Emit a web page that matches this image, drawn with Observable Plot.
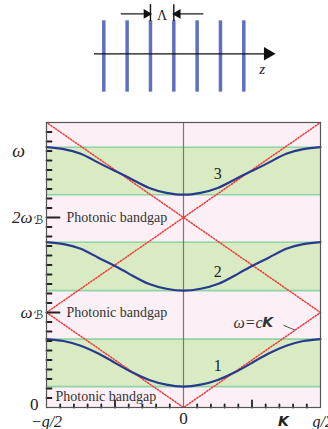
<!DOCTYPE html>
<html>
<head>
<meta charset="utf-8">
<script src="https://cdn.jsdelivr.net/npm/d3@7"></script>
<script src="https://cdn.jsdelivr.net/npm/@observablehq/plot@0.6"></script>
<style>
  html, body { margin: 0; padding: 0; background: #fff; }
  #chart svg { display: block; }
</style>
</head>
<body>
<div id="chart"></div>
<script>
// ---- Periodic stack (units of the period Λ) ----
const layerIndex = [0, 1, 2, 3, 4, 5, 6];

// ---- Band diagram: reduced wavevector K in units of g/2, ω in units of ω_B ----
const halfK = [0, 0.125, 0.25, 0.375, 0.5, 0.625, 0.75, 0.875, 1];
const band1 = [0.22, 0.24, 0.29, 0.37, 0.47, 0.57, 0.65, 0.70, 0.72];
const band2 = [1.23, 1.25, 1.30, 1.39, 1.49, 1.58, 1.67, 1.72, 1.74];
const band3 = [2.24, 2.26, 2.31, 2.40, 2.49, 2.58, 2.67, 2.72, 2.74];
const allowedLow = [0.22, 1.23, 2.24];
const allowedHigh = [0.72, 1.74, 2.74];
const bandNames = ["1", "2", "3"];
const bandLabelK = [0.25, 0.25, 0.25];
const bandLabelW = [0.44, 1.43, 2.46];
const gapCenters = [1, 2];
const lowGapCenter = 0.12;
// light line ω = c|K| folded into the zone
const lightK = [[-1, 0, 1], [-1, 1], [1, -1]];
const lightW = [[1, 0, 1], [1, 3], [1, 3]];
const minorYTicks = d3.range(1, 30).map(i => i / 10).filter(v => v !== 1 && v !== 2);
const majorYTicks = [1, 2];
const minorXTicks = d3.range(-9, 10).map(i => i / 10).filter(v => v !== 0 && Math.abs(v) !== 0.5);
const majorXTicks = [-0.5, 0.5];

const bandTable = [];
[band1, band2, band3].forEach((b, j) => {
  const pts = halfK.map((k, i) => ({k, w: b[i]}));
  const mirrored = pts.slice(1).reverse().map(p => ({k: -p.k, w: p.w}));
  for (const p of mirrored.concat(pts)) bandTable.push({band: bandNames[j], K: p.k, w: p.w});
});
const lightTable = [];
lightK.forEach((ks, j) => ks.forEach((k, i) => lightTable.push({seg: j, K: k, w: lightW[j][i]})));
const bandRects = allowedLow.map((lo, i) => ({lo, hi: allowedHigh[i]}));
const bandLabels = bandNames.map((n, i) => ({n, K: bandLabelK[i], w: bandLabelW[i]}));

const serif = "'Liberation Serif', 'DejaVu Serif', serif";
const scriptFont = "'DejaVu Serif', 'DejaVu Sans', serif";
const sans = "'DejaVu Sans', sans-serif";

// a plain stroke of length l, pointing along the vector direction
const stick = {draw(context, l) { context.moveTo(0, 0); context.lineTo(0, -l); }};

// ---- Top schematic ----
const stack = Plot.plot({
  width: 328, height: 110, margin: 0,
  x: {domain: [0, 6], range: [103.3, 243.3], axis: null},
  y: {domain: [-1.715, 1.615], range: [110, 0], axis: null},
  marks: [
    Plot.ruleX(layerIndex, {x: d => d, y1: -1.16, y2: 1, stroke: "#5f6fc2", strokeWidth: 3.5}),
    Plot.ruleY([0], {x1: -0.4, x2: 6.9, stroke: "#111", strokeWidth: 1.4}),
    Plot.dot([{x: 7.03, y: 0}], {x: "x", y: "y", symbol: "triangle", r: 5, rotate: 90, fill: "#111", stroke: null}),
    Plot.text(["z"], {x: 6.79, y: -0.45, text: d => d, fontFamily: serif, fontStyle: "italic", fontSize: 15, fill: "#222"}),
    // period marker
    Plot.ruleX([2, 3], {x: d => d, y1: 0.98, y2: 1.49, stroke: "#111", strokeWidth: 1.4}),
    Plot.ruleY([1.21], {x1: 0.75, x2: 1.8, stroke: "#111", strokeWidth: 1.2}),
    Plot.ruleY([1.21], {x1: 3.25, x2: 4.29, stroke: "#111", strokeWidth: 1.2}),
    Plot.dot([{x: 1.83, y: 1.21, a: 90}, {x: 3.17, y: 1.21, a: -90}], {x: "x", y: "y", symbol: "triangle", r: 3.6, rotate: "a", fill: "#111", stroke: null}),
    Plot.text(["Λ"], {x: 2.5, y: 1.17, text: d => d, fontFamily: serif, fontSize: 14, fill: "#222"})
  ]
});

// ---- Band diagram ----
const chart = Plot.plot({
  width: 328, height: 319,
  marginTop: 12, marginBottom: 22, marginLeft: 46, marginRight: 8,
  x: {domain: [-1, 1], axis: null},
  y: {domain: [0, 3], axis: null},
  style: {overflow: "visible"},
  marks: [
    Plot.rect([0], {x1: -1, x2: 1, y1: 0, y2: 3, fill: "#fcf0f6"}),
    Plot.rect(bandRects, {x1: -1, x2: 1, y1: "lo", y2: "hi", fill: "#d9ebc2"}),
    Plot.ruleY(allowedLow.concat(allowedHigh), {stroke: "#8fd4a4", strokeWidth: 1.6}),
    Plot.ruleX([0], {stroke: "#777", strokeWidth: 1.2}),
    Plot.line(lightTable, {x: "K", y: "w", z: "seg", stroke: "#f03a3a", strokeWidth: 1.5, strokeDasharray: "1.3,1.7"}),
    Plot.line(bandTable, {x: "K", y: "w", z: "band", curve: "natural", stroke: "#283a90", strokeWidth: 2.2}),
    Plot.text(bandLabels, {x: "K", y: "w", text: "n", fontFamily: serif, fontSize: 16, fill: "#222"}),
    Plot.text(gapCenters, {x: -1, y: d => d, text: () => "Photonic bandgap", textAnchor: "start", dx: 20, fontFamily: serif, fontSize: 14, fill: "#333"}),
    Plot.text([lowGapCenter], {x: -1, y: d => d, text: () => "Photonic bandgap", textAnchor: "start", dx: 9, fontFamily: serif, fontSize: 14, fill: "#333"}),
    // ω = cK annotation
    Plot.text(["ω=c"], {x: 0.365, y: 0.895, text: d => d, textAnchor: "start", fontFamily: serif, fontStyle: "italic", fontSize: 16, fill: "#333"}),
    Plot.text(["K"], {x: 0.575, y: 0.895, text: d => d, textAnchor: "start", fontFamily: sans, fontStyle: "italic", fontWeight: "bold", fontSize: 14, fill: "#333"}),
    Plot.link([0], {x1: 0.73, y1: 0.865, x2: 0.815, y2: 0.815, stroke: "#555", strokeWidth: 1}),
    // inward ticks
    Plot.vector(minorYTicks, {x: -1, y: d => d, length: 5, rotate: 90, anchor: "start", shape: stick, stroke: "#222", strokeWidth: 1.8}),
    Plot.vector(majorYTicks, {x: -1, y: d => d, length: 13, rotate: 90, anchor: "start", shape: stick, stroke: "#222", strokeWidth: 1.8}),
    Plot.vector(minorXTicks, {x: d => d, y: 0, length: 3, rotate: 0, anchor: "start", shape: stick, stroke: "#222", strokeWidth: 1.8}),
    Plot.vector(majorXTicks, {x: d => d, y: 0, length: 7, rotate: 0, anchor: "start", shape: stick, stroke: "#222", strokeWidth: 1.8}),
    Plot.frame({stroke: "#555", strokeWidth: 1.2}),
    // axis labels
    Plot.text(["ω"], {x: -1, y: 2.7, text: d => d, dx: -28, fontFamily: serif, fontStyle: "italic", fontSize: 18, fill: "#222"}),
    Plot.text([2], {x: -1, y: d => d, text: d => d + "ω", textAnchor: "end", dx: -14, fontFamily: serif, fontStyle: "italic", fontSize: 17, fill: "#222"}),
    Plot.text([1], {x: -1, y: d => d, text: () => "ω", textAnchor: "end", dx: -14, fontFamily: serif, fontStyle: "italic", fontSize: 17, fill: "#222"}),
    Plot.text(majorYTicks, {x: -1, y: d => d, text: () => "ℬ", textAnchor: "end", dx: -3, dy: 3, fontFamily: scriptFont, fontStyle: "italic", fontSize: 12, fill: "#222"}),
    Plot.text([0], {x: -1, y: 0, text: () => "0", textAnchor: "end", dx: -8, dy: -3, fontFamily: serif, fontSize: 17, fill: "#222"}),
    Plot.text([-1], {x: d => d, y: 0, text: () => "−g/2", dy: 14, fontFamily: serif, fontStyle: "italic", fontSize: 16, fill: "#222"}),
    Plot.text([0], {x: d => d, y: 0, text: () => "0", dy: 11, fontFamily: serif, fontSize: 17, fill: "#222"}),
    Plot.text([1], {x: d => d, y: 0, text: () => "g/2", textAnchor: "start", dx: -8, dy: 14, fontFamily: serif, fontStyle: "italic", fontSize: 16, fill: "#222"}),
    Plot.text(["K"], {x: 0.73, y: 0, text: d => d, dy: 14.5, fontFamily: sans, fontStyle: "italic", fontWeight: "bold", fontSize: 14, fill: "#222"})
  ]
});

const root = document.getElementById("chart");
root.appendChild(stack);
root.appendChild(chart);
</script>
</body>
</html>
